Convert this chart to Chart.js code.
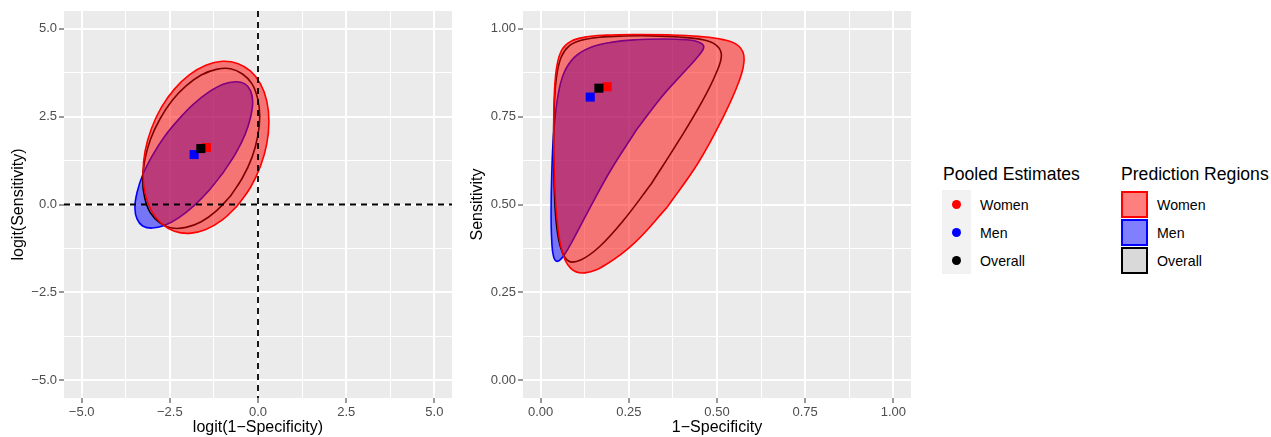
<!DOCTYPE html>
<html>
<head>
<meta charset="utf-8">
<script src="https://cdn.jsdelivr.net/npm/chart.js@4"></script>
<style>
  body { margin: 0; background: #fff; font-family: "Liberation Sans", Arial, sans-serif; }
  #wrap { position: relative; width: 1271px; height: 437px; }
  canvas { position: absolute; top: 0; }
  #left { left: 0; }
  #right { left: 460px; }
  .lg { position: absolute; color: #000; white-space: nowrap; }
  .lg-title { font-size: 17.6px; line-height: 20px; }
  .lg-text { font-size: 14.2px; line-height: 16px; }
  .keybg { position: absolute; background: #f2f2f2; }
  .dot { position: absolute; width: 9px; height: 9px; border-radius: 50%; }
  .box { position: absolute; width: 27px; height: 27px; box-sizing: border-box; border: 2px solid; }
</style>
</head>
<body>
<div id="wrap">
  <canvas id="left" width="460" height="437"></canvas>
  <canvas id="right" width="460" height="437"></canvas>
  <div id="legend"></div>
</div>
<script>
// groups
const groups = ['Women', 'Men', 'Overall'];
const groupColors = ['#ff0000', '#0000ff', '#000000'];
const regionFills = ['rgba(255,0,0,0.5)', 'rgba(0,0,255,0.5)', 'rgba(0,0,0,0)'];
const keyFills = ['rgba(255,0,0,0.5)', 'rgba(0,0,255,0.5)', '#d9d9d9'];

// pooled estimates, logit scale
const pooledX = [-1.46, -1.81, -1.62];
const pooledY = [1.62, 1.42, 1.59];

// prediction region outlines, logit scale
const womenX = [-0.58, -0.21, 0.07, 0.25, 0.31, 0.25, 0.07, -0.21, -0.58, -1.01, -1.48, -1.94,
                -2.37, -2.74, -3.02, -3.20, -3.26, -3.20, -3.02, -2.74, -2.37, -1.94, -1.48, -1.01];
const womenY = [-0.03, 0.49, 1.09, 1.73, 2.36, 2.94, 3.43, 3.79, 4.01, 4.07, 3.96, 3.69,
                3.28, 2.76, 2.16, 1.52, 0.89, 0.31, -0.18, -0.54, -0.76, -0.82, -0.71, -0.44];
const menX = [-0.99, -0.64, -0.37, -0.21, -0.15, -0.21, -0.37, -0.64, -0.99, -1.39, -1.82, -2.25,
              -2.66, -3.00, -3.27, -3.43, -3.49, -3.43, -3.27, -3.00, -2.66, -2.25, -1.82, -1.39];
const menY = [0.90, 1.44, 1.98, 2.48, 2.91, 3.23, 3.43, 3.49, 3.42, 3.20, 2.86, 2.42,
              1.92, 1.38, 0.84, 0.34, -0.09, -0.41, -0.61, -0.67, -0.60, -0.38, -0.04, 0.40];
const overallX = [-0.78, -0.44, -0.17, -0.01, 0.05, -0.01, -0.17, -0.44, -0.78, -1.18, -1.61, -2.04,
                  -2.44, -2.78, -3.05, -3.21, -3.27, -3.21, -3.05, -2.78, -2.44, -2.04, -1.61, -1.18];
const overallY = [0.24, 0.76, 1.34, 1.93, 2.51, 3.01, 3.43, 3.71, 3.86, 3.84, 3.68, 3.37,
                  2.95, 2.43, 1.85, 1.26, 0.69, 0.18, -0.24, -0.52, -0.67, -0.65, -0.49, -0.18];

// axis ticks
const logitMajor = [-5, -2.5, 0, 2.5, 5];
const logitMinor = [-3.75, -1.25, 1.25, 3.75];
const probMajor = [0, 0.25, 0.5, 0.75, 1];
const probMinor = [0.125, 0.375, 0.625, 0.875];
const refLine = 0;

const FONT = '"Liberation Sans", Arial, sans-serif';
const expit = v => 1 / (1 + Math.exp(-v));
const ident = v => v;

function closedPoints(xs, ys, tf) {
  const pts = xs.map((x, i) => ({ x: tf(x), y: tf(ys[i]) }));
  pts.push(pts[0]);
  return pts;
}

function buildDatasets(tf) {
  const regions = [[womenX, womenY], [menX, menY], [overallX, overallY]];
  const ds = [];
  // region polygons: men under overall under women
  const regionOrder = [3, 5, 4];
  regions.forEach((r, i) => {
    ds.push({
      label: groups[i] + ' region',
      data: closedPoints(r[0], r[1], tf),
      showLine: true,
      fill: 'shape',
      backgroundColor: regionFills[i],
      borderColor: groupColors[i],
      borderWidth: 1.6,
      pointRadius: 0,
      tension: 0.4,
      order: regionOrder[i]
    });
  });
  // pooled estimate squares: overall on top
  const pointOrder = [2, 1, 0];
  groups.forEach((g, i) => {
    ds.push({
      label: g,
      data: [{ x: tf(pooledX[i]), y: tf(pooledY[i]) }],
      showLine: false,
      pointStyle: 'rect',
      pointRadius: 6.4,
      pointBackgroundColor: groupColors[i],
      pointBorderWidth: 0,
      order: pointOrder[i]
    });
  });
  return ds;
}

function axis(min, max, major, minor, fmt, title, isY, titlePad, size) {
  const all = major.concat(minor).sort((a, b) => a - b);
  const isMajor = v => major.some(m => Math.abs(m - v) < 1e-9);
  return {
    type: 'linear',
    min: min,
    max: max,
    afterBuildTicks: s => { s.ticks = all.map(v => ({ value: v })); },
    afterFit: s => { if (isY) s.width = size; else s.height = size; },
    ticks: {
      autoSkip: false,
      maxRotation: 0,
      padding: 2,
      color: '#4d4d4d',
      font: { family: FONT, size: 13 },
      callback: v => isMajor(v) ? fmt(v) : ''
    },
    grid: {
      color: '#ffffff',
      lineWidth: c => (c.tick && isMajor(c.tick.value)) ? 2 : 1,
      tickColor: c => (c.tick && isMajor(c.tick.value)) ? '#333333' : 'rgba(0,0,0,0)',
      tickLength: 5,
      tickWidth: 1
    },
    border: { display: false },
    title: {
      display: true,
      text: title,
      color: '#000',
      font: { family: FONT, size: 16 },
      padding: isY ? { top: titlePad, bottom: 0 } : { top: 0, bottom: titlePad }
    }
  };
}

const panelBg = {
  id: 'panelBg',
  beforeDraw(chart) {
    const { ctx, chartArea: a } = chart;
    ctx.save();
    ctx.fillStyle = '#ebebeb';
    ctx.fillRect(a.left, a.top, a.right - a.left, a.bottom - a.top);
    ctx.restore();
  }
};

const zeroLines = {
  id: 'zeroLines',
  afterDatasetsDraw(chart) {
    const { ctx, chartArea: a, scales } = chart;
    const px = scales.x.getPixelForValue(refLine);
    const py = scales.y.getPixelForValue(refLine);
    ctx.save();
    ctx.strokeStyle = '#000';
    ctx.lineWidth = 1.8;
    ctx.setLineDash([6, 5]);
    ctx.beginPath();
    ctx.moveTo(px, a.top); ctx.lineTo(px, a.bottom);
    ctx.moveTo(a.left, py); ctx.lineTo(a.right, py);
    ctx.stroke();
    ctx.restore();
  }
};

const logitFmt = v => (v < 0 ? '\u2212' : '') + Math.abs(v).toFixed(1);
const probFmt = v => v.toFixed(2);

function makeChart(id, tf, xAxis, yAxis, padRight, plugins) {
  return new Chart(document.getElementById(id), {
    type: 'line',
    data: { datasets: buildDatasets(tf) },
    options: {
      responsive: false,
      animation: false,
      events: [],
      layout: { padding: { left: 0, top: 11, right: padRight, bottom: 0 } },
      plugins: { legend: { display: false }, tooltip: { enabled: false } },
      scales: { x: xAxis, y: yAxis }
    },
    plugins: plugins
  });
}

makeChart('left', ident,
  axis(-5.5, 5.5, logitMajor, logitMinor, logitFmt, 'logit(1\u2212Specificity)', false, 0, 39),
  axis(-5.5, 5.5, logitMajor, logitMinor, logitFmt, 'logit(Sensitivity)', true, 9, 64),
  8, [panelBg, zeroLines]);

makeChart('right', expit,
  axis(-0.05, 1.05, probMajor, probMinor, probFmt, '1\u2212Specificity', false, 0, 39),
  axis(-0.05, 1.05, probMajor, probMinor, probFmt, 'Sensitivity', true, 7.5, 63),
  9, [panelBg]);

// legends
const lg = document.getElementById('legend');
function add(html) { lg.insertAdjacentHTML('beforeend', html); }
add('<div class="lg lg-title" style="left:943px;top:164px">Pooled Estimates</div>');
add('<div class="lg lg-title" style="left:1121px;top:164px">Prediction Regions</div>');
add('<div class="keybg" style="left:942px;top:190px;width:29px;height:84px"></div>');
groups.forEach((g, i) => {
  const cy = 204 + i * 28;
  add('<div class="dot" style="left:952px;top:' + (cy - 4.5) + 'px;background:' + groupColors[i] + '"></div>');
  add('<div class="lg lg-text" style="left:980px;top:' + (cy - 7) + 'px">' + g + '</div>');
  add('<div class="box" style="left:1121px;top:' + (cy - 13.5) + 'px;border-color:' + groupColors[i] + ';background:' + keyFills[i] + '"></div>');
  add('<div class="lg lg-text" style="left:1157px;top:' + (cy - 7) + 'px">' + g + '</div>');
});
</script>
</body>
</html>
